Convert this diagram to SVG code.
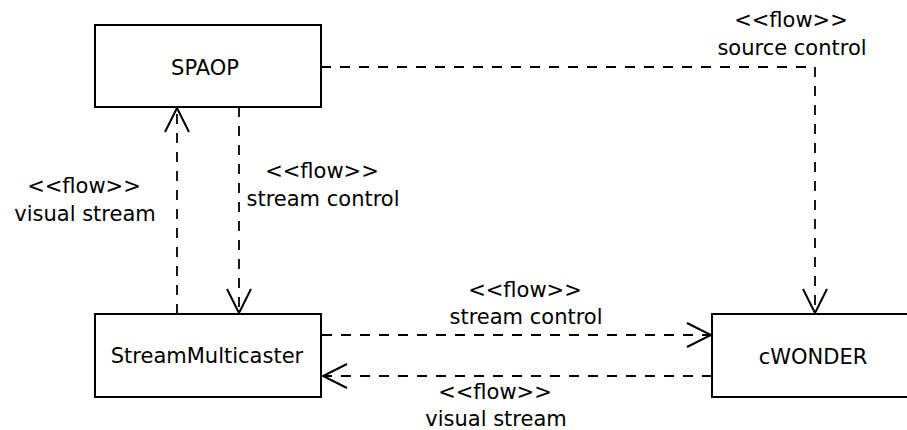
<svg xmlns="http://www.w3.org/2000/svg" width="907" height="430" viewBox="0 0 907 430">
  <style>
    .box { fill: #ffffff; stroke: #000000; stroke-width: 2; }
    .name { font-family: "DejaVu Sans", sans-serif; font-size: 21px; fill: #000000; text-anchor: middle; }
    .flow { fill: none; stroke: #000000; stroke-width: 1.8; stroke-dasharray: 10 9; }
    .lbl { font-family: "DejaVu Sans", sans-serif; font-size: 21px; fill: #000000; text-anchor: middle; }
  </style>
  <defs>
    <marker id="open" markerUnits="userSpaceOnUse" markerWidth="40" markerHeight="40" refX="0" refY="0" orient="auto" overflow="visible">
      <path d="M -24 -12 L 0 0 L -24 12" fill="none" stroke="#000000" stroke-width="2" stroke-dasharray="none"/>
    </marker>
  </defs>

  <rect x="0" y="0" width="907" height="430" fill="#ffffff"/>

  <g id="connectors">
    <!-- SPAOP to cWONDER: source control -->
    <polyline class="flow" points="321,67 815,67 815,313" marker-end="url(#open)"/>
    <!-- StreamMulticaster to SPAOP: visual stream -->
    <line class="flow" x1="177" y1="314" x2="177" y2="108" marker-end="url(#open)"/>
    <!-- SPAOP to StreamMulticaster: stream control -->
    <line class="flow" x1="239" y1="107" x2="239" y2="313" marker-end="url(#open)"/>
    <!-- StreamMulticaster to cWONDER: stream control -->
    <line class="flow" x1="322" y1="335" x2="711" y2="335" marker-end="url(#open)"/>
    <!-- cWONDER to StreamMulticaster: visual stream -->
    <line class="flow" x1="712" y1="376" x2="323" y2="376" marker-end="url(#open)"/>

    <text class="lbl" x="791" y="27">&lt;&lt;flow&gt;&gt;</text>
    <text class="lbl" x="792" y="55">source control</text>
    <text class="lbl" x="84" y="193">&lt;&lt;flow&gt;&gt;</text>
    <text class="lbl" x="85" y="221">visual stream</text>
    <text class="lbl" x="322" y="178">&lt;&lt;flow&gt;&gt;</text>
    <text class="lbl" x="323" y="206">stream control</text>
    <text class="lbl" x="525" y="297">&lt;&lt;flow&gt;&gt;</text>
    <text class="lbl" x="526" y="324">stream control</text>
    <text class="lbl" x="495" y="399">&lt;&lt;flow&gt;&gt;</text>
    <text class="lbl" x="496" y="426">visual stream</text>
  </g>

  <g id="SPAOP">
    <rect class="box" x="95" y="25" width="226" height="82"/>
    <text class="name" x="205" y="75">SPAOP</text>
  </g>

  <g id="StreamMulticaster">
    <rect class="box" x="95" y="314" width="226" height="83"/>
    <text class="name" x="207" y="363">StreamMulticaster</text>
  </g>

  <g id="cWONDER">
    <rect class="box" x="712" y="314" width="210" height="83"/>
    <text class="name" x="813" y="364">cWONDER</text>
  </g>
</svg>
